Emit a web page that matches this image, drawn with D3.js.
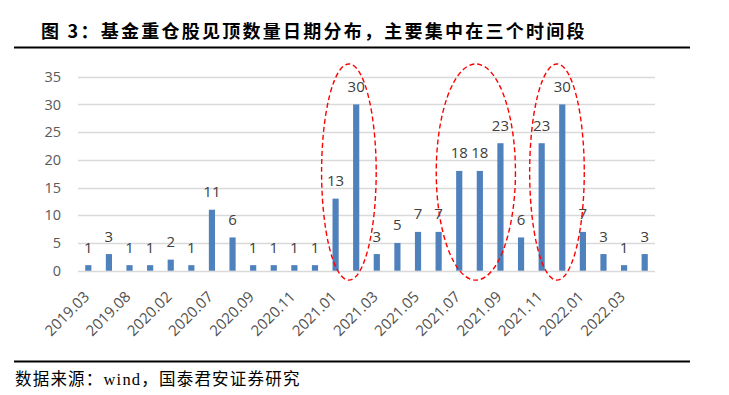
<!DOCTYPE html>
<html>
<head>
<meta charset="utf-8">
<script src="https://cdn.jsdelivr.net/npm/d3@7/dist/d3.min.js"></script>
<style>
  body { margin: 0; background: #fff; }
  svg { display: block; }
</style>
</head>
<body>
<script>
// categories (only every second one is labelled on the axis)
const months = [
  '2019.03', '2019.05', '2019.08', '2019.11', '2020.02', '2020.04',
  '2020.07', '2020.08', '2020.09', '2020.10', '2020.11', '2020.12',
  '2021.01', '2021.02', '2021.03', '2021.04', '2021.05', '2021.06',
  '2021.07', '2021.08', '2021.09', '2021.10', '2021.11', '2021.12',
  '2022.01', '2022.02', '2022.03', '2022.04'
];
const counts = [1, 3, 1, 1, 2, 1, 11, 6, 1, 1, 1, 1, 13, 30, 3, 5, 7, 7, 18, 18, 23, 6, 23, 30, 7, 3, 1, 3];
const tickLabels = months.filter((d, i) => i % 2 === 0);
const yTicks = [0, 5, 10, 15, 20, 25, 30, 35];
// the three periods circled in red
const clusters = [
  ['2021.01', '2021.02'],
  ['2021.07', '2021.09'],
  ['2021.11', '2021.12']
];

const title = '图 3：基金重仓股见顶数量日期分布，主要集中在三个时间段';
const source = '数据来源：wind，国泰君安证券研究';

const W = 729, H = 395;
const svg = d3.select('body').append('svg')
  .attr('width', W)
  .attr('height', H);

// title + rules
svg.append('text')
  .attr('x', 41)
  .attr('y', 38)
  .attr('font-family', '"Noto Sans CJK SC", sans-serif')
  .attr('font-weight', 'bold')
  .attr('font-size', 18)
  .attr('letter-spacing', 2.25)
  .attr('fill', '#000')
  .text(title);

svg.append('line')
  .attr('x1', 14).attr('x2', 690)
  .attr('y1', 47.5).attr('y2', 47.5)
  .attr('stroke', '#000').attr('stroke-width', 2);

svg.append('line')
  .attr('x1', 14).attr('x2', 690)
  .attr('y1', 361.5).attr('y2', 361.5)
  .attr('stroke', '#000').attr('stroke-width', 2);

svg.append('text')
  .attr('x', 15)
  .attr('y', 385)
  .attr('font-family', '"Liberation Serif", "Noto Sans CJK SC", serif')
  .attr('font-size', 16.5)
  .attr('letter-spacing', 1.2)
  .attr('fill', '#000')
  .text(source);

// scales
const x = d3.scaleBand()
  .domain(months)
  .range([78, 655])
  .paddingInner(0.7)
  .paddingOuter(0.35);

const y = d3.scaleLinear()
  .domain([0, 35])
  .range([270.7, 76.7]);

const cx = d => x(d) + x.bandwidth() / 2;

// gridlines
svg.append('g')
  .selectAll('line')
  .data(yTicks)
  .join('line')
  .attr('x1', 78).attr('x2', 655)
  .attr('y1', d => Math.round(y(d)) + 0.5)
  .attr('y2', d => Math.round(y(d)) + 0.5)
  .attr('stroke', '#d9d9d9')
  .attr('stroke-width', 1.3);

// y axis labels
const yAxis = svg.append('g')
  .attr('transform', 'translate(78,0)')
  .call(d3.axisLeft(y).tickValues(yTicks).tickSize(0).tickPadding(17));
yAxis.select('.domain').remove();
yAxis.selectAll('text')
  .attr('font-family', '"Open Sans", sans-serif')
  .attr('font-size', 14.5)
  .attr('fill', '#595959');

// x axis labels (rotated)
const xAxis = svg.append('g')
  .attr('transform', `translate(0,${y(0)})`)
  .call(d3.axisBottom(x).tickValues(tickLabels).tickSize(0).tickFormat(d => d));
xAxis.select('.domain').remove();
xAxis.selectAll('text')
  .attr('font-family', '"Open Sans", sans-serif')
  .attr('font-size', 15)
  .attr('fill', '#505050')
  .attr('text-anchor', 'end')
  .attr('dy', 0)
  .attr('y', 0)
  .attr('transform', 'translate(2,27) rotate(-45)');

// bars
svg.append('g')
  .selectAll('rect')
  .data(counts)
  .join('rect')
  .attr('x', (d, i) => x(months[i]))
  .attr('y', d => y(d))
  .attr('width', x.bandwidth())
  .attr('height', d => y(0) - y(d))
  .attr('fill', '#4f81bd');

// value labels
svg.append('g')
  .selectAll('text')
  .data(counts)
  .join('text')
  .attr('x', (d, i) => cx(months[i]))
  .attr('y', d => y(d) - 12.5)
  .attr('text-anchor', 'middle')
  .attr('font-family', '"Open Sans", sans-serif')
  .attr('font-size', 15)
  .attr('fill', '#404040')
  .text(d => d);

// red dashed ellipses around the three peak periods
const nudges = [3, -4, 5];
svg.append('g')
  .selectAll('ellipse')
  .data(clusters)
  .join('ellipse')
  .attr('cx', (c, i) => (cx(c[0]) + cx(c[1])) / 2 + nudges[i])
  .attr('cy', y(17.8))
  .attr('rx', (c, i) => (cx(c[1]) - cx(c[0])) / 2 + (i === 1 ? 19 : 17))
  .attr('ry', y(0) - y(19.5))
  .attr('fill', 'none')
  .attr('stroke', '#ff0000')
  .attr('stroke-width', 1.4)
  .attr('stroke-dasharray', '5,3');
</script>
</body>
</html>
